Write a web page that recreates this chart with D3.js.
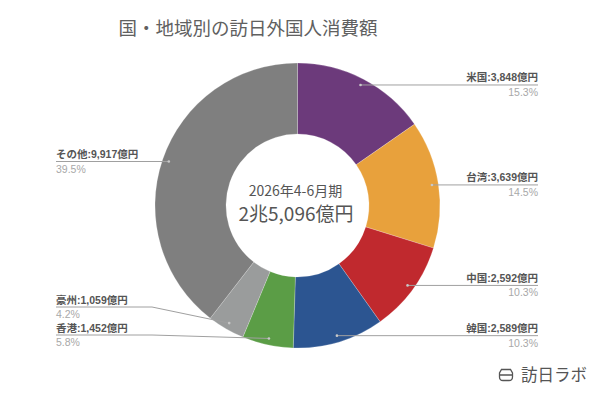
<!DOCTYPE html>
<head>
  <meta charset="utf-8">
  <script src="https://d3js.org/d3.v7.min.js"></script>
  <style>
    body { margin: 0; background: #fff; }
    text { font-family: "Noto Sans CJK JP", "Noto Sans", sans-serif; }
    .lbl { font-family: "Liberation Sans", "Noto Sans CJK JP", sans-serif; }
  </style>
</head>
<body>
  <script>
    // data (order = clockwise from 12 o'clock)
    var regions = ["米国", "台湾", "中国", "韓国", "香港", "豪州", "その他"];
    var amounts = [3848, 3639, 2592, 2589, 1452, 1059, 9917];
    var sliceColors = ["#6c3a7b", "#e8a13c", "#c0292e", "#2c5591", "#5b9d46", "#9a9c9c", "#7f7f7f"];
    var titleText = "国・地域別の訪日外国人消費額";
    var periodText = "2026年4-6月期";
    var totalText = "2兆5,096億円";

    var outerWidth = 600,
      outerHeight = 393;

    var cx = 297.5, cy = 205.5,
      outerR = 142.5, innerR = 71.5, dotR = 136;

    var svg = d3.select("body")
      .append("svg")
      .attr("width", outerWidth)
      .attr("height", outerHeight);

    // title
    svg.append("text")
      .attr("x", 248)
      .attr("y", 35)
      .attr("text-anchor", "middle")
      .attr("font-size", 18.5)
      .attr("fill", "#606060")
      .text(titleText);

    var rows = regions.map(function(r, i) {
      return { name: r, value: amounts[i], color: sliceColors[i] };
    });
    var total = d3.sum(amounts);

    var pie = d3.pie().sort(null).value(function(d) { return d.value; });
    var arc = d3.arc().innerRadius(innerR).outerRadius(outerR);
    var dotArc = d3.arc().innerRadius(dotR).outerRadius(dotR);

    var g = svg.append("g").attr("transform", "translate(" + cx + "," + cy + ")");
    var arcs = pie(rows);

    g.selectAll("path.slice")
      .data(arcs)
      .enter().append("path")
      .attr("class", "slice")
      .attr("d", arc)
      .attr("fill", function(d) { return d.data.color; })
      .attr("stroke", "#fff")
      .attr("stroke-opacity", 0.35)
      .attr("stroke-width", 0.6);

    // label layout: right side labels end at x=538, left side start at x=56
    var fmtYen = d3.format(",");
    var fmtPct = d3.format(".1%");
    var leftX = 56, rightX = 538, leftBend = 152, rightBend = 445;
    var leftLimit = 335;

    var labels = arcs.map(function(d) {
      var c = dotArc.centroid(d);
      return { d: d, dx: c[0] + cx, dy: c[1] + cy, right: c[0] > 0 };
    });
    // stack the left labels from the bottom up so they don't collide
    labels.filter(function(l) { return !l.right; })
      .sort(function(a, b) { return b.dy - a.dy; })
      .forEach(function(l) {
        l.ly = Math.min(l.dy, leftLimit);
        leftLimit = l.ly - 28;
      });
    labels.filter(function(l) { return l.right; })
      .forEach(function(l) { l.ly = l.dy; });

    labels.forEach(function(l) {
      var pts;
      if (l.right) {
        pts = [[l.dx, l.dy], [rightBend, l.ly], [rightX, l.ly]];
      } else {
        pts = [[leftX, l.ly], [leftBend, l.ly], [l.dx, l.dy]];
      }
      svg.append("path")
        .attr("d", d3.line()(pts))
        .attr("fill", "none")
        .attr("stroke", "#a0a0a0")
        .attr("stroke-width", 1);
      svg.append("circle")
        .attr("cx", l.dx).attr("cy", l.dy).attr("r", 1.3)
        .attr("fill", "#c8c8c8");

      var tx = l.right ? rightX : leftX;
      var anchor = l.right ? "end" : "start";
      svg.append("text")
        .attr("class", "lbl")
        .attr("x", tx).attr("y", l.ly - 3.5)
        .attr("text-anchor", anchor)
        .attr("font-size", 10.5)
        .attr("font-weight", "bold")
        .attr("fill", "#555")
        .text(l.d.data.name + ":" + fmtYen(l.d.data.value) + "億円");
      svg.append("text")
        .attr("class", "lbl")
        .attr("x", tx).attr("y", l.ly + 11)
        .attr("text-anchor", anchor)
        .attr("font-size", 10.5)
        .attr("fill", "#a8a8a8")
        .text(fmtPct(l.d.data.value / total));
    });

    // centre text
    g.append("text")
      .attr("x", -2).attr("y", -9.5)
      .attr("text-anchor", "middle")
      .attr("font-size", 14)
      .attr("fill", "#555")
      .text(periodText);
    g.append("text")
      .attr("x", -1.5).attr("y", 15)
      .attr("text-anchor", "middle")
      .attr("font-size", 19)
      .attr("fill", "#555")
      .text(totalText);

    // logo bottom right
    var logo = svg.append("g").attr("transform", "translate(506,375)");
    logo.append("path")
      .attr("d", "M-4.5,-5.5 L4.5,-5.5 L6.5,-2 L6.5,2 Q6.5,5.5 3,5.5 L-3,5.5 Q-6.5,5.5 -6.5,2 L-6.5,-2 Z M-6.5,0 L6.5,0")
      .attr("fill", "none")
      .attr("stroke", "#555")
      .attr("stroke-width", 1.3);
    svg.append("text")
      .attr("x", 521).attr("y", 381)
      .attr("font-size", 16.5)
      .attr("fill", "#555")
      .text("訪日ラボ");
  </script>
</body>
